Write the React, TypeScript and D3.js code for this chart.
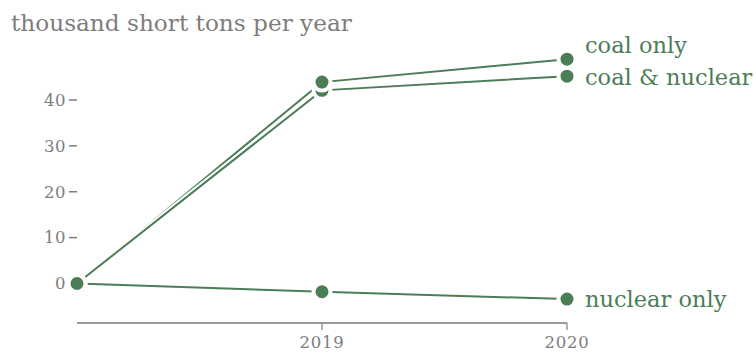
import React from "react";
import * as d3 from "d3";

const years = [2018, 2019, 2020];
const coalOnly = [0, 43.9, 48.9];
const coalNuclear = [0, 42.1, 45.2];
const nuclearOnly = [0, -1.8, -3.4];
const seriesNames = ["coal only", "coal & nuclear", "nuclear only"];
const yTicks = [0, 10, 20, 30, 40];
const xTickYears = [2019, 2020];
const title = "thousand short tons per year";

const W = 756;
const H = 355;
const GREEN = "#4b7d56";
const GREY = "#7d7d7d";

export default function App() {
  const x = d3.scaleLinear().domain([2018, 2020]).range([77, 567]);
  const y = d3.scaleLinear().domain([0, 40]).range([283.5, 100]);
  const series = [coalOnly, coalNuclear, nuclearOnly].map((vals, i) => ({
    name: seriesNames[i],
    pts: years.map((yr, j) => [yr, vals[j]] as [number, number]),
  }));
  const line = d3
    .line<[number, number]>()
    .x((d) => x(d[0]))
    .y((d) => y(d[1]));
  const labelDy = [-14, 1, 0];
  const dotOrder = [...series].reverse();
  return (
    <svg
      width={W}
      height={H}
      style={{ position: "absolute", left: 0, top: 0, fontFamily: "'DejaVu Serif', serif" }}
    >
      <rect width={W} height={H} fill="#fff" />
      <text x={11} y={31} fontSize={23.2} fill={GREY}>
        {title}
      </text>
      {yTicks.map((t) => (
        <g key={t}>
          <text
            x={66}
            y={y(t)}
            dy="0.35em"
            textAnchor="end"
            fontSize={16.5}
            letterSpacing={0.5}
            fill={GREY}
          >
            {t}
          </text>
          {t !== 0 && (
            <line x1={69} x2={77} y1={y(t)} y2={y(t)} stroke={GREY} strokeWidth={1.5} />
          )}
        </g>
      ))}
      <line x1={x(2018)} x2={x(2020)} y1={323} y2={323} stroke="#999" strokeWidth={2} />
      {xTickYears.map((t) => (
        <g key={t}>
          <line x1={x(t)} x2={x(t)} y1={323} y2={330} stroke="#999" strokeWidth={1.5} />
          <text
            x={x(t)}
            y={348}
            textAnchor="middle"
            fontSize={16.5}
            letterSpacing={0.8}
            fill={GREY}
          >
            {t}
          </text>
        </g>
      ))}
      {series.map((s) => (
        <g key={s.name}>
          <path d={line(s.pts) || ""} fill="none" stroke="#fff" strokeWidth={6} />
          <path d={line(s.pts) || ""} fill="none" stroke={GREEN} strokeWidth={2} />
        </g>
      ))}
      {dotOrder.map((s) =>
        s.pts.map((p, j) => (
          <circle
            key={s.name + j}
            cx={x(p[0])}
            cy={y(p[1])}
            r={8.5}
            fill={GREEN}
            stroke="#fff"
            strokeWidth={4}
          />
        ))
      )}
      {series.map((s, i) => {
        const last = s.pts[s.pts.length - 1];
        return (
          <text
            key={s.name}
            x={585}
            y={y(last[1]) + labelDy[i]}
            dy="0.35em"
            fontSize={22.5}
            fill={GREEN}
          >
            {s.name}
          </text>
        );
      })}
    </svg>
  );
}
